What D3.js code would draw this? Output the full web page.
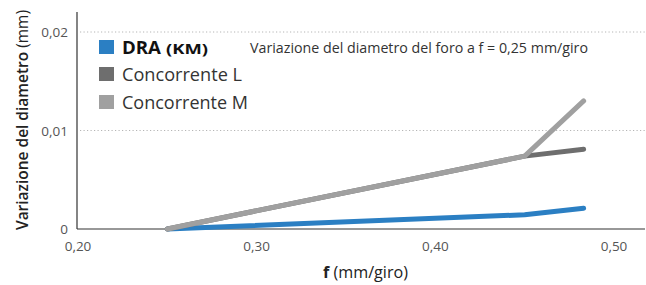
<!DOCTYPE html>
<html><head><meta charset="utf-8">
<script src="https://cdn.jsdelivr.net/npm/d3@7"></script>
<style>
body{margin:0;background:#fff;}
svg{display:block;font-family:"Open Sans","Noto Sans",sans-serif;}
</style></head>
<body><svg id="c" width="646" height="285"></svg>
<script>
const fValues = [0.25, 0.45, 0.483];
const draValues = [0, 0.00145, 0.0021];
const concLValues = [0, 0.0074, 0.0081];
const concMValues = [0, 0.0074, 0.0130];
const xTicks = [0.20, 0.30, 0.40, 0.50];
const yTicks = [0, 0.01, 0.02];
const seriesNames = ["DRA", "Concorrente L", "Concorrente M"];
const seriesColors = ["#2b7fc3", "#6e6e6e", "#a0a0a0"];

const svg = d3.select("#c");
const x = d3.scaleLinear().domain([0.20, 0.50]).range([78, 614]);
const y = d3.scaleLinear().domain([0, 0.01]).range([229, 130.5]);
const xEnd = 645, yTop = 12;
const fmt = d => d === 0 ? "0" : d3.format(".2f")(d).replace(".", ",");

// gridlines
svg.append("g").selectAll("line").data(yTicks.filter(d => d > 0)).join("line")
  .attr("x1", 80).attr("x2", xEnd).attr("y1", d => y(d)).attr("y2", d => y(d))
  .attr("stroke", "#b5b5b5").attr("stroke-width", 1).attr("stroke-dasharray", "1.2,2.3");

// axes
svg.append("line").attr("x1", x(0.2)-1).attr("x2", xEnd).attr("y1", y(0)).attr("y2", y(0)).attr("stroke", "#333").attr("stroke-width", 1.2);
svg.append("line").attr("x1", x(0.2)-1).attr("x2", x(0.2)-1).attr("y1", yTop).attr("y2", y(0)).attr("stroke", "#333").attr("stroke-width", 1.2);

svg.append("g").selectAll("text").data(yTicks).join("text")
  .attr("x", 68).attr("y", d => y(d) + 5).attr("text-anchor", "end")
  .attr("font-size", 13.5).attr("fill", "#555").text(fmt);
svg.append("g").selectAll("text").data(xTicks).join("text")
  .attr("x", d => x(d)).attr("y", 251).attr("text-anchor", "middle")
  .attr("font-size", 13.5).attr("fill", "#555").text(fmt);

// lines: DRA first, then L, then M on top
const series = [
  {vals: draValues, color: seriesColors[0]},
  {vals: concLValues, color: seriesColors[1]},
  {vals: concMValues, color: seriesColors[2]}
];
const line = d3.line().x(d => x(d[0])).y(d => y(d[1]));
series.forEach(s => {
  svg.append("path").datum(fValues.map((f, i) => [f, s.vals[i]]))
    .attr("d", line).attr("fill", "none").attr("stroke", s.color)
    .attr("stroke-width", 5).attr("stroke-linecap", "round").attr("stroke-linejoin", "round");
});

// legend
const lg = svg.append("g");
const legendY = [47, 74, 102];
seriesColors.forEach((c, i) => {
  lg.append("rect").attr("x", 99).attr("y", legendY[i] - 7).attr("width", 15).attr("height", 14).attr("fill", c);
});
lg.append("text").attr("x", 122).attr("y", legendY[0] + 6.5).attr("fill", "#111")
  .attr("font-size", 18).attr("font-weight", "bold")
  .attr("textLength", 39).attr("lengthAdjust", "spacingAndGlyphs").text("DRA");
lg.append("text").attr("x", 166).attr("y", legendY[0] + 6.5).attr("fill", "#111")
  .attr("font-size", 15).attr("font-weight", "bold")
  .attr("textLength", 42).attr("lengthAdjust", "spacingAndGlyphs").text("(KM)");
lg.append("text").attr("x", 122).attr("y", legendY[1] + 6.5).attr("font-size", 17.5).attr("fill", "#333")
  .attr("textLength", 120).attr("lengthAdjust", "spacingAndGlyphs").text(seriesNames[1]);
lg.append("text").attr("x", 122).attr("y", legendY[2] + 6.5).attr("font-size", 17.5).attr("fill", "#333")
  .attr("textLength", 126).attr("lengthAdjust", "spacingAndGlyphs").text(seriesNames[2]);
lg.append("text").attr("x", 250).attr("y", legendY[0] + 5.5).attr("font-size", 14).attr("fill", "#333")
  .attr("textLength", 338).attr("lengthAdjust", "spacingAndGlyphs")
  .text("Variazione del diametro del foro a f = 0,25 mm/giro");

// axis titles
const xt = svg.append("text").attr("x", 323).attr("y", 278).attr("font-size", 16).attr("fill", "#222")
  .attr("textLength", 85).attr("lengthAdjust", "spacingAndGlyphs");
xt.append("tspan").attr("font-weight", "bold").text("f ");
xt.append("tspan").text("(mm/giro)");
const yt = svg.append("text").attr("transform", "translate(28,230) rotate(-90)").attr("font-size", 16).attr("fill", "#222")
  .attr("textLength", 220).attr("lengthAdjust", "spacingAndGlyphs");
yt.append("tspan").attr("font-weight", 600).text("Variazione del diametro ");
yt.append("tspan").text("(mm)");
</script></body></html>
